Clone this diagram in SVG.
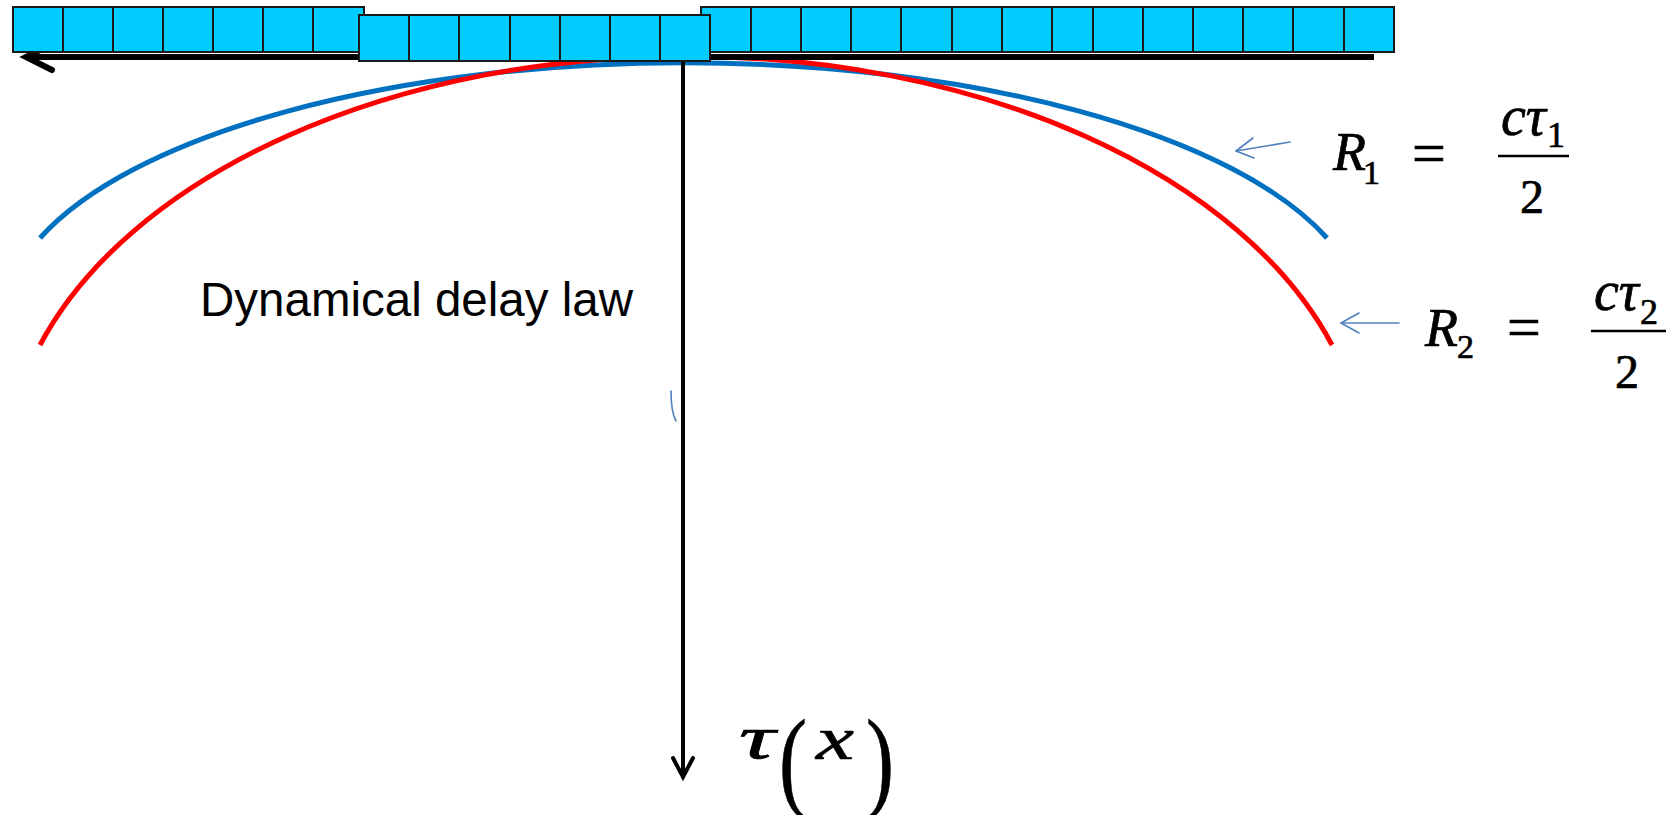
<svg xmlns="http://www.w3.org/2000/svg" width="1670" height="815" viewBox="0 0 1670 815">
<style>
.el{fill:#00CCFF;stroke:#1a1a1a;stroke-width:2}
.thin{stroke:#4F81BD;stroke-width:1.6;fill:none;stroke-linecap:round;stroke-linejoin:round}
.m{font-family:"Liberation Serif","Times New Roman",serif;fill:#000;stroke:#000;stroke-width:0.7}
.i{font-style:italic}
</style>
<rect width="1670" height="815" fill="#fff"/>
<g id="wavefronts" fill="none" stroke-width="5">
<path id="blue-front" stroke="#0070C0" d="M40 238 A680 259 0 0 1 1327 238"/>
<path id="red-front" stroke="#FF0000" d="M40 345 A680 420 0 0 1 1332 345"/>
</g>
<g id="connectors">
<g id="x-axis" stroke="#000" stroke-width="6" fill="none" stroke-linecap="round">
<line x1="1374" y1="57" x2="27" y2="57" stroke-linecap="butt"/>
<polyline points="52,44 26,57 52,70"/>
</g>
<g id="tau-axis" stroke="#000" stroke-width="4" fill="none" stroke-linecap="round">
<line x1="683" y1="58" x2="683" y2="776"/>
<polyline points="673,758 683,777 693,758"/>
</g>
<g id="r1-arrow" class="thin">
<line x1="1290" y1="142" x2="1236" y2="151"/>
<polyline points="1253,138 1236,151 1254,158"/>
</g>
<g id="r2-arrow" class="thin">
<line x1="1399" y1="323" x2="1341" y2="323"/>
<polyline points="1359,313 1341,323 1359,333"/>
</g>
</g>
<path id="tick-mark" class="thin" d="M671 391 Q671 412 676 421"/>
<g id="array-left">
<rect class="el" x="13" y="7" width="50" height="45"/>
<rect class="el" x="63" y="7" width="50" height="45"/>
<rect class="el" x="113" y="7" width="50" height="45"/>
<rect class="el" x="163" y="7" width="50" height="45"/>
<rect class="el" x="213" y="7" width="50" height="45"/>
<rect class="el" x="263" y="7" width="50" height="45"/>
<rect class="el" x="313" y="7" width="51" height="45"/>
</g>
<g id="array-right">
<rect class="el" x="701" y="7" width="50" height="45"/>
<rect class="el" x="751" y="7" width="50" height="45"/>
<rect class="el" x="801" y="7" width="50" height="45"/>
<rect class="el" x="851" y="7" width="50" height="45"/>
<rect class="el" x="901" y="7" width="51" height="45"/>
<rect class="el" x="952" y="7" width="50" height="45"/>
<rect class="el" x="1002" y="7" width="50" height="45"/>
<rect class="el" x="1052" y="7" width="41" height="45"/>
<rect class="el" x="1093" y="7" width="50" height="45"/>
<rect class="el" x="1143" y="7" width="50" height="45"/>
<rect class="el" x="1193" y="7" width="50" height="45"/>
<rect class="el" x="1243" y="7" width="50" height="45"/>
<rect class="el" x="1293" y="7" width="51" height="45"/>
<rect class="el" x="1344" y="7" width="50" height="45"/>
</g>
<g id="array-center">
<rect class="el" x="359" y="15" width="50" height="46"/>
<rect class="el" x="409" y="15" width="50" height="46"/>
<rect class="el" x="459" y="15" width="51" height="46"/>
<rect class="el" x="510" y="15" width="50" height="46"/>
<rect class="el" x="560" y="15" width="50" height="46"/>
<rect class="el" x="610" y="15" width="50" height="46"/>
<rect class="el" x="660" y="15" width="50" height="46"/>
</g>
<g id="label-delay-law">
<text x="200" y="316" font-family="Liberation Sans, Arial, sans-serif" font-size="47.5" fill="#000">Dynamical delay law</text>
</g>
<g id="eq-r1" class="m">
<text class="i" x="1333" y="170" font-size="54">R</text>
<text x="1363" y="184" font-size="34">1</text>
<text x="1412" y="173" font-size="60">=</text>
<text class="i" x="1501" y="135" font-size="56">cτ</text>
<text x="1547" y="147" font-size="36">1</text>
<line x1="1498" y1="156" x2="1569" y2="156" stroke-width="2.5"/>
<text x="1520" y="213" font-size="48">2</text>
</g>
<g id="eq-r2" class="m">
<text class="i" x="1425" y="346" font-size="54">R</text>
<text x="1457" y="358" font-size="34">2</text>
<text x="1507" y="347" font-size="60">=</text>
<text class="i" x="1594" y="310" font-size="56">cτ</text>
<text x="1640" y="324" font-size="36">2</text>
<line x1="1591" y1="331" x2="1666" y2="331" stroke-width="2.5"/>
<text x="1615" y="388" font-size="48">2</text>
</g>
<g id="tau-label" class="m">
<text class="i" x="739" y="758" font-size="62" textLength="36" lengthAdjust="spacingAndGlyphs">τ</text>
<text transform="translate(779,797) scale(0.75,1)" font-size="112">(</text>
<text class="i" x="816" y="759" font-size="62" textLength="38" lengthAdjust="spacingAndGlyphs">x</text>
<text transform="translate(866,797) scale(0.75,1)" font-size="112">)</text>
</g>
</svg>
